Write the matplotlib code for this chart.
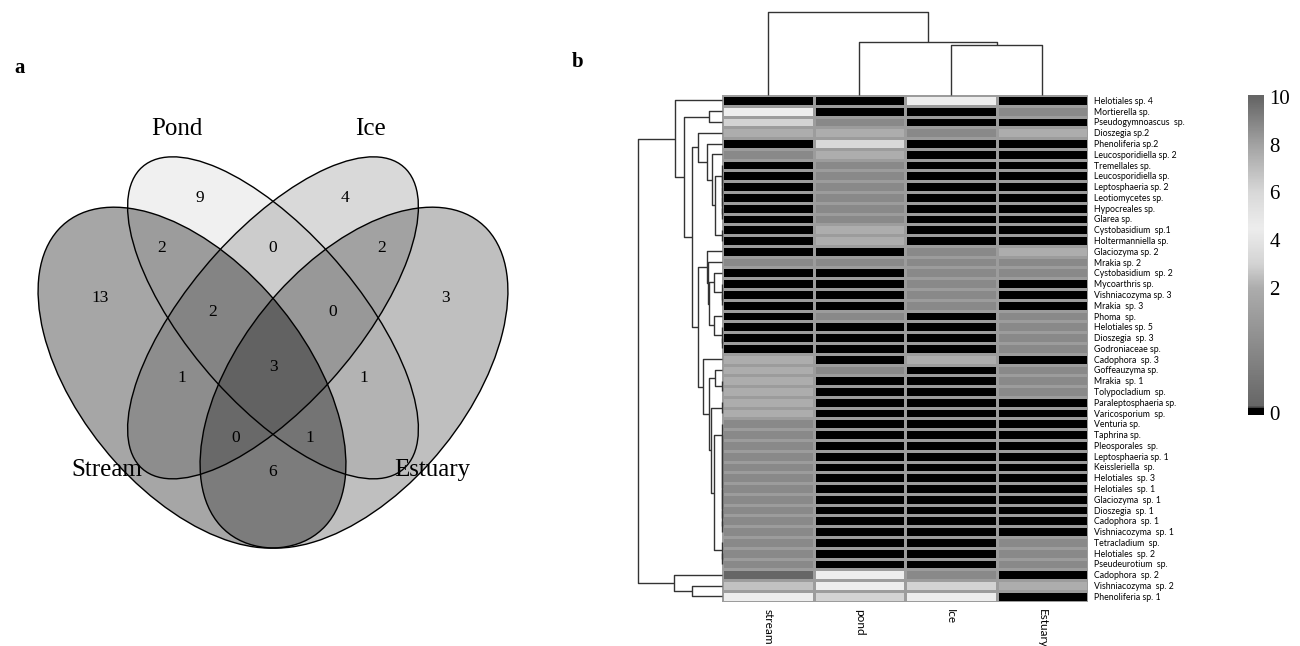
import numpy as np
import matplotlib
matplotlib.use("Agg")
import matplotlib.pyplot as plt
from matplotlib.colors import LinearSegmentedColormap, Normalize
from matplotlib.patches import Ellipse

# ------------------------------------------------------------------ data
venn_sets = ["Stream", "Pond", "Ice", "Estuary"]
venn_regions = ["S", "P", "I", "E", "SP", "PI", "IE", "SPI", "PIE",
                "SI", "PE", "SIE", "SPE", "SPIE", "SE"]
venn_counts = [13, 9, 4, 3, 2, 0, 2, 2, 0, 1, 1, 0, 1, 3, 6]

species = [
    "Helotiales sp. 4", "Mortierella sp.", "Pseudogymnoascus  sp.", "Dioszegia sp.2",
    "Phenoliferia sp.2", "Leucosporidiella sp. 2", "Tremellales sp.", "Leucosporidiella sp.",
    "Leptosphaeria sp. 2", "Leotiomycetes sp.", "Hypocreales sp.", "Glarea sp.",
    "Cystobasidium  sp.1", "Holtermanniella sp.", "Glaciozyma sp. 2", "Mrakia sp. 2",
    "Cystobasidium  sp. 2", "Mycoarthris sp.", "Vishniacozyma sp. 3", "Mrakia  sp. 3",
    "Phoma  sp.", "Helotiales sp. 5", "Dioszegia  sp. 3", "Godroniaceae sp.",
    "Cadophora  sp. 3", "Goffeauzyma sp.", "Mrakia  sp. 1", "Tolypocladium  sp.",
    "Paraleptosphaeria sp.", "Varicosporium  sp.", "Venturia sp.", "Taphrina sp.",
    "Pleosporales  sp.", "Leptosphaeria sp. 1", "Keissleriella  sp.", "Helotiales  sp. 3",
    "Helotiales  sp. 1", "Glaciozyma  sp. 1", "Dioszegia  sp. 1", "Cadophora  sp. 1",
    "Vishniacozyma  sp. 1", "Tetracladium  sp.", "Helotiales  sp. 2", "Pseudeurotium  sp.",
    "Cadophora  sp. 2", "Vishniacozyma  sp. 2", "Phenoliferia sp. 1",
]
sample_labels = ["stream", "pond", "Ice", "Estuary"]

stream = [0, 4.5, 3, 2, 0, 1, 0, 0, 0, 0, 0, 0, 0, 0, 0, 1, 0, 0, 0, 0, 0, 0, 0, 0,
          2, 2, 2, 2, 2, 2, 1, 1, 1, 1, 1, 1, 1, 1, 1, 1, 1, 1, 1, 1, 10, 2.5, 4.5]
pond = [0, 0, 1, 2, 3.3, 2, 1, 1, 1, 1, 1, 1, 2, 2, 0, 1, 0, 0, 0, 0, 1, 0, 0, 0,
        0, 1, 0, 0, 0, 0, 0, 0, 0, 0, 0, 0, 0, 0, 0, 0, 0, 0, 0, 0, 4.5, 4.5, 3]
ice = [4.5, 0, 0, 1, 0, 0, 0, 0, 0, 0, 0, 0, 0, 0, 1, 1, 1, 1, 1, 1, 0, 0, 0, 0,
       2, 0, 0, 0, 0, 0, 0, 0, 0, 0, 0, 0, 0, 0, 0, 0, 0, 0, 0, 0, 1, 3, 4.5]
estuary = [0, 1, 0, 2, 0, 0, 0, 0, 0, 0, 0, 0, 0, 0, 2, 1, 1, 0, 0, 0, 1, 1, 1, 1,
           0, 1, 1, 1, 0, 0, 0, 0, 0, 0, 0, 0, 0, 0, 0, 0, 0, 1, 1, 1, 0, 2, 0]

colorbar_ticks = [0, 2, 4, 6, 8, 10]

# column dendrogram: (height, left, right); leaves are column indices
col_tree = (1.0, 0, (0.64, 1, (0.60, 2, 3)))


def chain(leaves):
    node = leaves[-1]
    for lf in reversed(leaves[:-1]):
        node = (0.0, lf, node)
    return node


# row dendrogram: (height, left, right); leaves are row indices
row_E = (0.29, 3, (0.183, 4, (0.123, 5, (0.084, chain([6, 7, 8, 9, 10, 11]), chain([12, 13])))))
row_P = (0.092, 16, chain([17, 18, 19]))
row_Q = (0.092, 20, chain([21, 22, 23]))
row_G = (0.183, 14, (0.167, 15, (0.161, row_P, row_Q)))
row_I = (0.092, chain(list(range(30, 41))), chain([41, 42, 43]))
row_J = (0.131, chain([28, 29]), row_I)
row_L = (0.084, 25, chain([26, 27]))
row_H = (0.223, 24, (0.155, row_L, row_J))
row_F = (0.283, row_G, row_H)
row_tree = (1.0,
            (0.56, 0, (0.45, (0.152, 1, 2), (0.362, row_E, row_F))),
            (0.57, 44, (0.355, 45, 46)))

# ------------------------------------------------------------------ figure
W, H = 1300, 646
fig = plt.figure(figsize=(W / 100, H / 100), dpi=100)
fig.patch.set_facecolor("white")
serif = ["Liberation Serif", "DejaVu Serif"]


def px_axes(x0, y0, x1, y1):
    return fig.add_axes([x0 / W, 1 - y1 / H, (x1 - x0) / W, (y1 - y0) / H])


def px_text(x, y, s, **kw):
    fig.text(x / W, 1 - y / H, s, **kw)


# ------------------------------------------------------------------ panel a: Venn
# classic four-ellipse layout in a unit square, stretched to the panel
vx0, vx1 = 3, 543          # unit x 0..1
vy_top, sy = 60.7, 598.0   # unit y 1 at vy_top, scale sy px per unit
vy_bottom_unit = 1 - (646 - vy_top) / sy
axv = px_axes(vx0, vy_top, vx1, 646)
axv.set_xlim(0, 1)
axv.set_ylim(vy_bottom_unit, 1)
axv.axis("off")

ell_geom = {
    "Stream": dict(xy=(0.35, 0.47), width=0.70, height=0.40, angle=-45),
    "Pond": dict(xy=(0.50, 0.57), width=0.70, height=0.30, angle=-45),
    "Ice": dict(xy=(0.50, 0.57), width=0.70, height=0.30, angle=45),
    "Estuary": dict(xy=(0.65, 0.47), width=0.70, height=0.40, angle=45),
}
ell_alpha = {"Stream": 0.35, "Pond": 0.06, "Ice": 0.15, "Estuary": 0.25}
for s in venn_sets:
    axv.add_patch(Ellipse(facecolor="black", edgecolor="none", alpha=ell_alpha[s], **ell_geom[s]))
for s in venn_sets:
    axv.add_patch(Ellipse(facecolor="none", edgecolor="black", lw=1.0, **ell_geom[s]))

region_xy = {
    "S": (100, 298), "P": (200, 198), "I": (345, 198), "E": (445, 298),
    "SP": (162, 248), "PI": (273, 248), "IE": (382, 248),
    "SPI": (213, 312), "PIE": (333, 312), "SI": (182, 378), "PE": (364, 378),
    "SIE": (236, 438), "SPE": (310, 438), "SPIE": (273, 367), "SE": (273, 472),
}
for r, c in zip(venn_regions, venn_counts):
    px_text(*region_xy[r], str(c), ha="center", va="center", fontsize=12.5, family=serif)

set_label_xy = {"Stream": (107, 470), "Pond": (177, 129), "Ice": (370, 129), "Estuary": (432, 470)}
for s in venn_sets:
    px_text(*set_label_xy[s], s, ha="center", va="center", fontsize=18, family=serif)

px_text(20, 68, "a", fontsize=15, fontweight="bold", family=serif, ha="center", va="center")
px_text(578, 62, "b", fontsize=15, fontweight="bold", family=serif, ha="center", va="center")

# ------------------------------------------------------------------ panel b: heatmap
data = np.array([stream, pond, ice, estuary], dtype=float).T
nodes = [0.0, 0.05, 1, 2, 3, 4.5, 6, 8, 10]
greys = [0.0, 0.40, 0.54, 0.68, 0.83, 0.93, 0.85, 0.64, 0.40]
cmap = LinearSegmentedColormap.from_list(
    "grey_cycle", [(v / 10, (g, g, g)) for v, g in zip(nodes, greys)])
norm = Normalize(0, 10)

hx0, hx1, hy0, hy1 = 722, 1088, 95, 601.7
axh = px_axes(hx0, hy0, hx1, hy1)
nrow = len(species)
axh.pcolormesh(np.arange(5), np.arange(nrow + 1), data, cmap=cmap, norm=norm,
               edgecolors="#9c9c9c", linewidth=0.9)
axh.set_xlim(0, 4)
axh.set_ylim(nrow, 0)
for sp in axh.spines.values():
    sp.set_visible(False)
axh.set_xticks(np.arange(4) + 0.5)
axh.set_xticklabels(sample_labels, rotation=-90, fontsize=8.5, family=["Lato", "DejaVu Sans"])
axh.yaxis.tick_right()
axh.set_yticks(np.arange(nrow) + 0.5)
axh.set_yticklabels(species, fontsize=6.3, family=["Lato", "DejaVu Sans"])
axh.tick_params(length=0, pad=4)
axh.tick_params(axis="x", pad=5)


def draw_tree(ax, node, orient):
    if isinstance(node, int):
        return node + 0.5, 0.0
    h, left, right = node
    pl, hl = draw_tree(ax, left, orient)
    pr, hr = draw_tree(ax, right, orient)
    hs = [hl, h, h, hr]
    ps = [pl, pl, pr, pr]
    if orient == "left":
        ax.plot(hs, ps, color="#333333", lw=1.0, solid_capstyle="butt", clip_on=False)
    else:
        ax.plot(ps, hs, color="#333333", lw=1.0, solid_capstyle="butt", clip_on=False)
    return (pl + pr) / 2, h


# row dendrogram (root at x=638)
axr = px_axes(630, hy0, hx0, hy1)
draw_tree(axr, row_tree, "left")
axr.set_xlim((hx0 - 630) / 83.7, 0)
axr.set_ylim(nrow, 0)
axr.axis("off")

# column dendrogram (root at y=12)
axc = px_axes(hx0, 5, hx1, hy0)
draw_tree(axc, col_tree, "top")
axc.set_xlim(0, 4)
axc.set_ylim(0, (hy0 - 5) / 83.0)
axc.axis("off")

# ------------------------------------------------------------------ colour bar
axcb = px_axes(1248, 95, 1264, 415)
pos_nodes = [0.022, 0.397, 0.994]
val_nodes = [0.05, 2, 10]
p = np.linspace(0, 1, 400)
vals = np.interp(p, pos_nodes, val_nodes)
vals[p < pos_nodes[0]] = 0.0
axcb.imshow(vals[:, None], cmap=cmap, norm=norm, origin="lower", aspect="auto",
            extent=[0, 1, 0, 1])
axcb.set_xlim(0, 1)
axcb.set_ylim(0, 1)
axcb.set_xticks([])
tick_pos = [0.006] + list(np.interp(colorbar_ticks[1:], val_nodes, pos_nodes))
axcb.yaxis.tick_right()
axcb.set_yticks(tick_pos)
axcb.set_yticklabels([str(t) for t in colorbar_ticks], fontsize=15, family=serif)
axcb.tick_params(length=0, pad=4)
for sp in axcb.spines.values():
    sp.set_visible(False)

fig.savefig("out.png", dpi=100, facecolor="white")
